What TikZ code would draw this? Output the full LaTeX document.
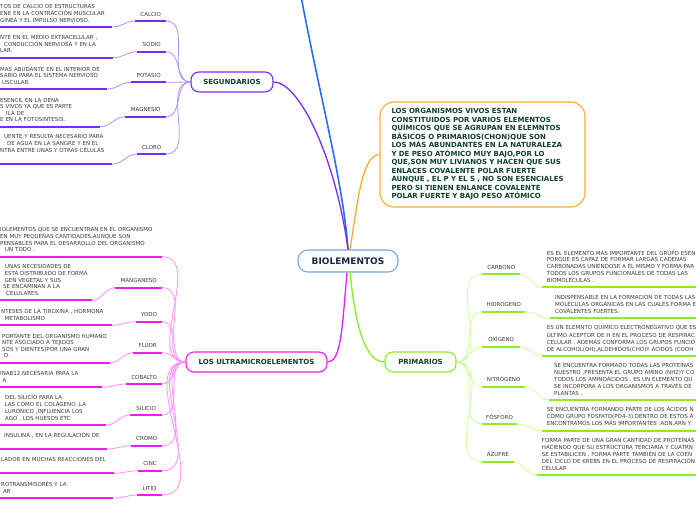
\documentclass[tikz,border=0pt]{standalone}
\usepackage{fontspec}
\setmainfont{DejaVu Sans}
\definecolor{txt}{HTML}{3A3A3A}
\definecolor{dgreen}{HTML}{0E3F30}
\definecolor{navy}{HTML}{15284B}
\definecolor{pur}{HTML}{7A2CF4}
\definecolor{purl}{HTML}{AE90FF}
\definecolor{mag}{HTML}{EE1CEE}
\definecolor{magl}{HTML}{FF8CFF}
\definecolor{grn}{HTML}{8CEB2A}
\definecolor{grnl}{HTML}{C8FF96}
\definecolor{org}{HTML}{FFAA33}
\definecolor{blu}{HTML}{2B6BFF}
\definecolor{bioc}{HTML}{6FAADD}
\newcommand\dlines[1]{\begin{tabular}[b]{@{}l@{}}#1\end{tabular}}
\begin{document}
\begin{tikzpicture}[x=1pt,y=-1pt,
 dfont/.style={font=\fontsize{5.5}{6.6}\selectfont},
 desc/.style={dfont,text=txt,align=left,inner xsep=0pt,inner ysep=4.6pt,text depth=0pt,anchor=south west},
 rdesc/.style={desc,inner xsep=5pt,text width=200pt},
 lbl/.style={dfont,text=txt,inner xsep=0pt,inner ysep=4.8pt,text depth=0pt,anchor=south west},
 topic/.style={draw,line width=1.1pt,rounded corners=8pt,fill=white,font=\bfseries\fontsize{7}{8}\selectfont,text=dgreen,inner sep=0pt,minimum height=20pt},
 uline/.style={line width=2pt},
 twig/.style={line width=0.8pt},
 trunk/.style={line width=1.3pt},
]
\useasboundingbox (0,0) rectangle (696,520);
\clip (0,0) rectangle (696,520);

% ---------- main topics ----------
\node[topic,draw=bioc,minimum width=100pt,minimum height=22pt,rounded corners=10pt,font=\bfseries\fontsize{9}{10}\selectfont,text=navy] (bio) at (348,261) {BIOLEMENTOS};
\node[topic,draw=pur,minimum width=82pt] (seg) at (232,82) {SEGUNDARIOS};
\node[topic,draw=mag,minimum width=141pt] (ultra) at (256.5,362) {LOS ULTRAMICROELEMENTOS};
\node[topic,draw=grn,minimum width=71pt] (prim) at (420.5,362) {PRIMARIOS};
\node[draw=org,line width=1.1pt,rounded corners=14pt,fill=white,font=\bfseries\fontsize{7}{8.5}\selectfont,text=dgreen,align=left,text width=182pt,inner xsep=11.5pt,minimum height=105pt] (intro) at (482.5,154.5) {LOS ORGANISMOS VIVOS ESTAN\\CONSTITUIDOS POR VARIOS ELEMENTOS\\QUÍMICOS QUE SE AGRUPAN EN ELEMNTOS\\BÁSICOS O PRIMARIOS(CHON)QUE SON\\LOS MÁS ABUNDANTES EN LA NATURALEZA\\Y DE PESO ATÓMICO MUY BAJO,POR LO\\QUE,SON MUY LIVIANOS Y HACEN QUE SUS\\ENLACES COVALENTE POLAR FUERTE\\AUNQUE , EL P Y EL S , NO SON ESENCIALES\\PERO SI TIENEN ENLANCE COVALENTE\\POLAR FUERTE Y BAJO PESO ATÓMICO};
\coordinate (offtop) at (299,-15);

% ---------- main connectors ----------
\draw[blu,line width=1.6pt] (offtop) .. controls (318,90) and (343,180) .. (bio.north);
\draw[pur,trunk] (seg.east) .. controls (300,82) and (336,160) .. (bio.north);
\draw[org,trunk] ([xshift=2pt]bio.north) .. controls (358,200) and (362,155) .. (intro.west);
\draw[mag,trunk] ([xshift=-1pt]bio.south) .. controls (342,330) and (341,362) .. (ultra.east);
\draw[grn,trunk] ([xshift=2pt]bio.south) .. controls (356,330) and (366,362) .. (prim.west);

% ---------- SEGUNDARIOS ----------
\node[lbl,minimum width=31pt] (calcio) at (135,21) {CALCIO};
\node[desc,text width=112pt] (calciod) at (0,27) {\dlines{TOS DE CALCIO DE ESTRUCTURAS\\ENE EN LA CONTRACCIÓN MUSCULAR\\GÍNEA Y EL IMPULSO NERVIOSO.}};
\node[lbl,minimum width=29pt] (sodio) at (137,51.7) {SODIO};
\node[desc,text width=113pt] (sodiod) at (0,57.7) {\dlines{NTE EN EL MEDIO EXTRACELULAR ,\\\hspace*{4pt}CONDUCCIÓN NERVIOSA Y EN LA\\LAR.}};
\node[lbl,minimum width=35pt] (potasio) at (131,82.3) {POTASIO};
\node[desc,text width=107pt] (potasiod) at (0,89) {\dlines{MAS ABUDANTE EN EL INTERIOR DE\\SARIO PARA EL SISTEMA NERVIOSO\\\hspace*{2pt}USCULAR.}};
\node[lbl,minimum width=41pt] (magnesio) at (125,116.7) {MAGNESIO};
\node[desc,text width=100pt] (magnesiod) at (0,126.7) {\dlines{ESENCIL EN LA DENA\\S VIVOS YA QUE ES PARTE\\\hspace*{6pt}ILA DE\\E EN LA FOTOSINTESIS.}};
\node[lbl,minimum width=29pt] (cloro) at (137,154) {CLORO};
\node[desc,text width=112pt] (clorod) at (0,164) {\dlines{\hspace*{4pt}UENTE Y RESULTA NECESARIO PARA\\\hspace*{7pt}DE AGUA EN LA SANGRE Y EN EL\\NTRA ENTRE UNAS Y OTRAS CÉLULAS\\~}};

\foreach \a/\b in {calcio/calciod,sodio/sodiod,potasio/potasiod,magnesio/magnesiod,cloro/clorod}{
  \draw[twig,purl] (\a.south east) to[out=0,in=180] (seg.west);
  \draw[twig,purl] (\a.south west) to[out=180,in=0] (\b.south east);
  \draw[uline,pur] (\a.south west) -- (\a.south east);
  \draw[uline,pur] (\b.south west) -- (\b.south east);
}

% ---------- ULTRAMICROELEMENTOS ----------
\node[desc,text width=161.7pt] (ultrad) at (0,256.7) {\dlines{IOLEMENTOS QUE SE ENCUENTRAN EN EL ORGANISMO\\EN MUY PEQUEÑAS CANTIDADES,AUNQUE SON\\PENSABLES PARA EL DESARROLLO DEL ORGANISMO\\\hspace*{5pt}UN TODO .}};
\draw[twig,magl] (ultrad.south east) to[out=0,in=180] (ultra.west);
\draw[uline,mag] (ultrad.south west) -- (ultrad.south east);

\node[lbl,minimum width=47pt] (mang) at (115,287.7) {MANGANESO};
\node[desc,text width=91.7pt] (mangd) at (0,300.3) {\dlines{\hspace*{5pt}UNAS NECESIDADES DE\\\hspace*{4.5pt}ESTÁ DISTRIBUIDO DE FORMA\\\hspace*{4.5pt}GEN VEGETAL Y SUS\\\hspace*{3pt}SE ENCAMINAN A LA\\\hspace*{6pt}CELULARES.}};
\node[lbl,minimum width=26.3pt] (yodo) at (135.7,321.7) {YODO};
\node[desc,text width=112pt] (yodod) at (0,325.3) {\dlines{\hspace*{1pt}NTESES DE LA TIROXINA , HORMONA\\\hspace*{4.5pt}METABOLISMO}};
\node[lbl,minimum width=29pt] (fluor) at (133,352.7) {FLÚOR};
\node[desc,text width=110pt] (fluord) at (0,362.7) {\dlines{\hspace*{2pt}PORTANTE DEL ORGANISMO HUMANO\\\hspace*{2pt}NTE ASOCIADO A TEJIDOS\\\hspace*{2pt}SOS Y DIENTES)POR UNA GRAN\\\hspace*{4pt}D .}};
\node[lbl,minimum width=36pt] (cobalto) at (126,384) {COBALTO};
\node[desc,text width=101.7pt] (cobaltod) at (0,387.3) {\dlines{INAB12,NECESARIA PARA LA\\\hspace*{2.5pt}A}};
\node[lbl,minimum width=32pt] (silicio) at (130,415) {SILICIO};
\node[desc,text width=106pt] (siliciod) at (0,425) {\dlines{\hspace*{5pt}DEL SILICIO PARA LA\\\hspace*{4.5pt}LAS COMO EL COLÁGENO ,LA\\\hspace*{5pt}LURÓNICO ,INFLUENCIA LOS\\\hspace*{5pt}AGO , LOS HUESOS ETC}};
\node[lbl,minimum width=31pt] (cromo) at (131,445.7) {CROMO};
\node[desc,text width=106.7pt] (cromod) at (0,449) {\dlines{\hspace*{4pt}INSULINA , EN LA REGULACIÓN DE\\~}};
\node[lbl,minimum width=24.3pt] (cinc) at (137.7,470.7) {CINC};
\node[desc,text width=113.3pt] (cincd) at (0,473.3) {\dlines{\hspace*{1pt}LADOR EN MUCHAS REACCIONES DEL\\~}};
\node[lbl,minimum width=25.3pt] (litio) at (136.7,495) {LITIO};
\node[desc,text width=112.7pt] (litiod) at (0,498.3) {\dlines{\hspace*{1pt}ROTRANSMISORES Y LA\\\hspace*{3pt}AR}};

\foreach \a/\b in {mang/mangd,yodo/yodod,fluor/fluord,cobalto/cobaltod,silicio/siliciod,cromo/cromod,cinc/cincd,litio/litiod}{
  \draw[twig,magl] (\a.south east) to[out=0,in=180] (ultra.west);
  \draw[twig,magl] (\a.south west) to[out=180,in=0] (\b.south east);
  \draw[uline,mag] (\a.south west) -- (\a.south east);
  \draw[uline,mag] (\b.south west) -- (\b.south east);
}

% ---------- PRIMARIOS ----------
\node[lbl,minimum width=38pt] (carb) at (482,274.3) {CARBONO};
\node[rdesc] (carbd) at (541.7,287.3) {\dlines{ES EL ELEMENTO MÁS IMPORTANTE DEL GRUPO ESEN\\PORQUE ES CAPAZ DE FORMAR LARGAS CADENAS\\CARBONADAS UNIÉNDOSE A ÉL MISMO Y FORMA PAR\\TODOS LOS GRUPOS FUNCIONALES DE TODAS LAS\\BIOMOLÉCULAS .}};
\node[lbl,minimum width=43pt] (hidr) at (482,311.7) {HIDROGENO};
\node[rdesc] (hidrd) at (550,318.3) {\dlines{INDISPENSABLE EN LA FORMACIÓN DE TODAS LAS\\MOLÉCULAS ORGÁNICAS EN LAS CUALES FORMA E\\COVALENTES FUERTES.}};
\node[lbl,minimum width=38pt] (oxi) at (482,346.7) {OXÍGENO};
\node[rdesc] (oxid) at (541.7,356) {\dlines{ES UN ELEMNTO QUÍMICO ELECTRONEGATIVO QUE ES\\ÚLTIMO ACEPTOR DE H EN EL PROCESO DE RESPIRAC\\CELULAR . ADEMÁS CONFORMA LOS GRUPOS FUNCIO\\DE ALCOHOL(OH),ALDEHÍDOS(CHO)Y ÁCIDOS (COOH}};
\node[lbl,minimum width=43pt] (nitr) at (482,386.7) {NITRÓGENO};
\node[rdesc] (nitrd) at (549,400) {\dlines{SE ENCUENTRA FORMADO TODAS LAS PROTEÍNAS\\NUESTRO ,PRESENTA EL GRUPO AMINO (NH2)Y CO\\TODOS LOS AMINOÁCIDOS . ES UN ELEMENTO QU\\SE INCORPORA A LOS ORGANISMOS A TRAVÉS DE\\PLANTAS .}};
\node[lbl,minimum width=34.7pt] (fosf) at (482,424) {FÓSFORO};
\node[rdesc] (fosfd) at (541.7,430.7) {\dlines{SE ENCUENTRA FORMANDO PARTE DE LOS ÁCIDOS N\\COMO GRUPO FOSFATO(PO4-3).DENTRO DE ESTOS Á\\ENCONTRAMOS LOS MÁS IMPORTANTES :ADN,ARN Y}};
\node[lbl,minimum width=31.3pt] (azuf) at (482,461.7) {AZUFRE};
\node[rdesc] (azufd) at (536.7,475) {\dlines{FORMA PARTE DE UNA GRAN CANTIDAD DE PROTEÍNAS\\HACIENDO QUE SU ESTRUCTURA TERCIARIA Y CUATRN\\SE ESTABILICEN . FORMA PARTE TAMBIÉN DE LA COEN\\DEL CICLO DE KREBS EN EL PROCESO DE RESPIRACIÓN\\CELULAR}};

\foreach \a/\b in {carb/carbd,hidr/hidrd,oxi/oxid,nitr/nitrd,fosf/fosfd,azuf/azufd}{
  \draw[twig,grnl] (prim.east) to[out=0,in=180] (\a.south west);
  \draw[twig,grnl] (\a.south east) to[out=0,in=180] (\b.south west);
  \draw[uline,grn] (\a.south west) -- (\a.south east);
  \draw[uline,grn] (\b.south west) -- (\b.south east);
}
\end{tikzpicture}
\end{document}
